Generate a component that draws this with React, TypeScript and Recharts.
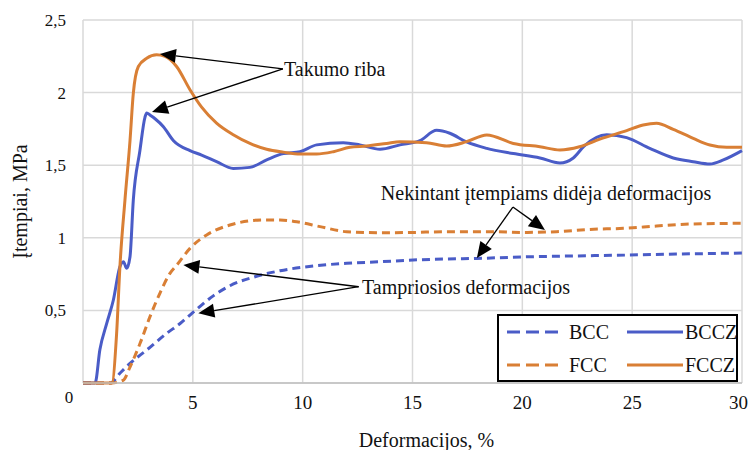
import React from 'react';
import { LineChart, Line, XAxis, YAxis, CartesianGrid, ReferenceLine, ReferenceDot, Legend } from 'recharts';

// strain, %
const bccStrain = [0, 1.25, 1.68, 2.14, 2.9, 3.81, 4.42, 4.87, 5.33, 5.93, 6.69, 7.9, 8.97, 10.48, 12.0, 13.52, 15.03, 16.55, 17.92, 20, 23.5, 27, 30];
const bccStress = [0, 0, 0.067, 0.135, 0.227, 0.342, 0.41, 0.468, 0.528, 0.6, 0.67, 0.735, 0.773, 0.806, 0.824, 0.835, 0.847, 0.854, 0.858, 0.868, 0.878, 0.888, 0.895];

const fccStrain = [0, 1.3, 1.84, 2.14, 2.59, 3.05, 3.5, 3.96, 4.26, 4.87, 5.63, 6.69, 8.2, 8.97, 9.73, 10.79, 12.0, 13.52, 15.03, 16.55, 18.53, 20.04, 21.56, 23.08, 24.6, 26.11, 27.63, 30];
const fccStress = [0, 0, 0.02, 0.11, 0.27, 0.457, 0.618, 0.755, 0.81, 0.927, 1.02, 1.088, 1.123, 1.123, 1.11, 1.077, 1.042, 1.035, 1.037, 1.042, 1.042, 1.037, 1.042, 1.058, 1.065, 1.081, 1.095, 1.1];

const bcczStrain = [0, 0.55, 0.77, 1.08, 1.38, 1.68, 1.84, 1.99, 2.14, 2.29, 2.59, 2.82, 2.9, 3.05, 3.28, 3.66, 4.11, 4.87, 5.4, 6.08, 6.84, 7.6, 8.36, 9.12, 9.88, 10.64, 11.85, 12.6, 13.52, 14.43, 15.34, 16.1, 16.7, 17.46, 18.38, 19.59, 20.8, 21.71, 22.32, 22.8, 23.84, 24.75, 25.8, 26.87, 27.78, 28.54, 29.15, 30];
const bcczStress = [0, 0, 0.23, 0.41, 0.57, 0.8, 0.835, 0.79, 0.87, 1.26, 1.6, 1.83, 1.86, 1.845, 1.82, 1.765, 1.67, 1.6, 1.57, 1.524, 1.478, 1.485, 1.536, 1.58, 1.593, 1.64, 1.655, 1.64, 1.61, 1.64, 1.67, 1.74, 1.72, 1.66, 1.616, 1.58, 1.55, 1.515, 1.55, 1.63, 1.71, 1.69, 1.616, 1.55, 1.524, 1.508, 1.536, 1.6];

const fcczStrain = [0, 1.31, 1.53, 1.68, 1.91, 2.14, 2.29, 2.52, 2.9, 3.35, 3.73, 4.26, 4.87, 5.4, 6.08, 6.84, 7.6, 8.36, 9.12, 9.88, 10.64, 11.4, 12.15, 12.9, 13.82, 14.43, 15.64, 16.55, 17.46, 18.38, 19.59, 20.8, 21.71, 22.6, 23.53, 24.75, 25.5, 26.11, 26.87, 27.78, 28.54, 29.3, 30];
const fcczStress = [0, 0, 0.34, 0.8, 1.26, 1.67, 1.995, 2.18, 2.236, 2.26, 2.25, 2.18, 2.02, 1.9, 1.79, 1.71, 1.65, 1.61, 1.59, 1.577, 1.577, 1.593, 1.623, 1.632, 1.65, 1.662, 1.655, 1.632, 1.662, 1.708, 1.65, 1.627, 1.605, 1.627, 1.68, 1.738, 1.777, 1.789, 1.747, 1.685, 1.639, 1.623, 1.623];

const xTicks = [0, 5, 10, 15, 20, 25, 30];
const yTicks = [0, 0.5, 1, 1.5, 2, 2.5];

const BLUE = '#4a5cc7';
const ORANGE = '#d97f35';
const FONT = '"Liberation Serif", "Times New Roman", serif';

const zip = (xs: number[], ys: number[]) => xs.map((x, i) => ({ x, y: ys[i] }));

const series = [
  { name: 'BCC', data: zip(bccStrain, bccStress), color: BLUE, dash: '8 5' },
  { name: 'FCC', data: zip(fccStrain, fccStress), color: ORANGE, dash: '8 5' },
  { name: 'BCCZ', data: zip(bcczStrain, bcczStress), color: BLUE, dash: undefined },
  { name: 'FCCZ', data: zip(fcczStrain, fcczStress), color: ORANGE, dash: undefined },
];

// annotation text anchor, arrow start and arrow tips (data coords)
const notes = [
  { text: 'Takumo riba', at: [9.15, 2.163], from: [9.1, 2.163], tips: [[3.5, 2.266], [3.14, 1.866]] },
  { text: 'Nekintant įtempiams didėja deformacijos', at: [13.56, 1.309], from: [19.57, 1.212], tips: [[17.93, 0.861], [21.03, 1.054]] },
  { text: 'Tampriosios deformacijos', at: [12.7, 0.663], from: [12.55, 0.663], tips: [[4.57, 0.813], [5.25, 0.48]] },
];

function arrowShape(p: any) {
  const { x1, y1, x2, y2 } = p;
  const dx = x2 - x1;
  const dy = y2 - y1;
  const len = Math.hypot(dx, dy) || 1;
  const ux = dx / len;
  const uy = dy / len;
  const L = 16;
  const W = 7;
  const bx = x2 - ux * L;
  const by = y2 - uy * L;
  return (
    <g>
      <line x1={x1} y1={y1} x2={bx} y2={by} stroke="#000" strokeWidth={1.3} />
      <polygon points={`${x2},${y2} ${bx - uy * W},${by + ux * W} ${bx + uy * W},${by - ux * W}`} fill="#000" />
    </g>
  );
}

function YTick(props: any) {
  const { x, y, payload } = props;
  const v = payload.value;
  if (v === 0) {
    return (
      <text x={x + 3} y={y + 14} dy="0.35em" textAnchor="middle" fontSize={17} fontFamily={FONT} fill="#111">0</text>
    );
  }
  return (
    <text x={x} y={y} dy="0.35em" textAnchor="end" fontSize={17} fontFamily={FONT} fill="#111">
      {String(v).replace('.', ',')}
    </text>
  );
}

function LegendBox() {
  const rows = [['BCC', 'BCCZ'], ['FCC', 'FCCZ']];
  return (
    <svg width={241} height={68} style={{ display: 'block' }}>
      <rect x={1} y={1} width={239} height={66} fill="#fff" stroke="#000" strokeWidth={2} />
      {rows.map((row, r) =>
        row.map((name, c) => {
          const s = series.find((k) => k.name === name)!;
          const cy = r === 0 ? 18 : 51;
          const lx = c === 0 ? 10 : 130;
          const tx = c === 0 ? 72 : 188;
          return (
            <g key={name}>
              <line x1={lx} x2={lx + 56} y1={cy} y2={cy} stroke={s.color} strokeWidth={3} strokeDasharray={s.dash ? '13 6' : undefined} />
              <text x={tx} y={cy} dy="0.35em" fontSize={20} fontFamily={FONT} fill="#111">{name}</text>
            </g>
          );
        })
      )}
    </svg>
  );
}

export default function App() {
  return (
    <div style={{ position: 'absolute', left: 0, top: 0, width: 748, height: 450, background: '#fff', fontFamily: FONT }}>
      <LineChart width={748} height={450} margin={{ top: 20, right: 6, left: 0, bottom: 0 }}>
        <CartesianGrid stroke="#d9d9d9" strokeWidth={1.5} />
        <XAxis
          type="number"
          dataKey="x"
          domain={[0, 30]}
          ticks={xTicks}
          height={67}
          tickSize={0}
          tickMargin={13}
          axisLine={{ stroke: '#bfbfbf', strokeWidth: 1.5 }}
          tickLine={false}
          tickFormatter={(v: number) => (v === 0 ? '' : String(v))}
          tick={{ fill: '#111', fontSize: 19, fontFamily: FONT }}
          label={{ value: 'Deformacijos, %', position: 'insideBottom', offset: 3, dx: 14, fill: '#111', fontSize: 20, fontFamily: FONT }}
        />
        <YAxis
          type="number"
          domain={[0, 2.5]}
          ticks={yTicks}
          width={83}
          tickSize={0}
          tickMargin={17}
          axisLine={false}
          tickLine={false}
          tick={<YTick />}
          label={{ value: 'Įtempiai, MPa', angle: -90, position: 'insideLeft', offset: 20, fill: '#111', fontSize: 20, fontFamily: FONT, style: { textAnchor: 'middle' } }}
        />
        {series.map((s) => (
          <Line
            key={s.name}
            name={s.name}
            data={s.data}
            dataKey="y"
            type="monotone"
            stroke={s.color}
            strokeWidth={3}
            strokeDasharray={s.dash}
            strokeLinejoin="round"
            dot={false}
            activeDot={false}
            isAnimationActive={false}
          />
        ))}
        {notes.map((n) =>
          n.tips.map((t, i) => (
            <ReferenceLine
              key={n.text + i}
              segment={[{ x: n.from[0], y: n.from[1] }, { x: t[0], y: t[1] }]}
              ifOverflow="visible"
              shape={arrowShape}
            />
          ))
        )}
        {notes.map((n) => (
          <ReferenceDot
            key={n.text}
            x={n.at[0]}
            y={n.at[1]}
            r={1}
            ifOverflow="visible"
            shape={(p: any) => (
              <text x={p.cx} y={p.cy} dy="0.35em" fontSize={20} fontFamily={FONT} fill="#111">{n.text}</text>
            )}
          />
        ))}
        <Legend
          verticalAlign="middle"
          align="center"
          content={() => <LegendBox />}
          wrapperStyle={{ position: 'absolute', left: 497, top: 314, width: 241, height: 68, bottom: 'auto', right: 'auto' }}
        />
      </LineChart>
    </div>
  );
}
